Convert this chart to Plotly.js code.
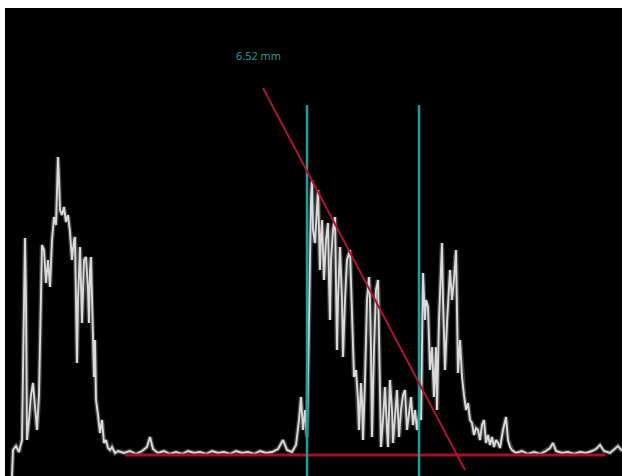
<!DOCTYPE html>
<html>
<head>
<meta charset="utf-8">
<script src="https://cdn.plot.ly/plotly-3.0.1.min.js"></script>
<style>html,body{margin:0;padding:0;background:#fff;}#chart{width:622px;height:476px;}</style>
</head>
<body>
<div id="chart"></div>
<script>
// Signal profile: sample position and screen depth (pixels from top); amplitude = 476 - depth
const signalX = [12,13,16,19,22,24,25,26,27,29,31,33,35,37,39,41,42,44,46,48,50,52,54,56,57,58,59,60,62,64,66,68,70,72,74,75,76,77,78,80,82,84,86,88,89,90,91,92,94,95,96,98,100,102,104,106,108,110,112,115,118,124,130,136,142,147,150,153,158,164,170,176,182,188,194,200,206,212,218,224,230,236,242,248,254,260,266,272,278,283,287,292,296,299,301,303,305,307,309,311,312,313,315,317,318,319,320,321,322,323,324,326,328,329,330,331,333,335,336,337,338,340,342,343,345,347,350,352,354,356,358,359,361,362,363,365,367,369,370,371,372,374,376,378,379,381,383,385,387,388,390,392,393,395,397,399,401,403,405,407,409,411,413,415,417,419,421,423,425,426,428,430,432,434,436,437,439,441,442,443,445,447,449,450,452,454,456,457,458,460,462,464,466,468,470,472,474,476,478,480,482,484,486,488,490,492,494,496,498,500,503,506,508,510,512,516,522,528,534,540,546,550,553,556,562,568,574,580,586,592,596,600,604,610,614,618,622];
const signalDepth = [476,450,446,452,440,300,238,300,440,420,395,383,410,430,395,300,245,250,283,260,287,240,217,225,180,157,180,210,215,207,222,215,232,260,240,237,300,363,300,247,323,260,257,290,323,270,257,310,377,340,400,415,433,420,443,440,448,450,447,453,451,453,451,454,451,447,437,449,453,451,454,452,454,451,453,452,454,451,453,452,454,451,453,452,454,451,453,452,449,440,450,452,445,420,397,430,410,437,300,200,180,230,243,200,190,230,270,235,220,250,280,240,223,280,320,260,230,217,280,350,300,247,300,357,300,260,250,320,377,370,400,430,383,400,440,380,300,277,300,350,437,350,290,280,350,447,420,387,430,447,380,410,443,420,390,437,410,395,390,430,410,397,425,410,430,415,420,273,320,300,307,370,347,397,347,410,320,260,243,300,370,323,290,270,300,280,250,300,373,340,377,395,410,403,420,423,435,428,430,440,425,420,443,435,445,437,447,440,443,448,430,417,440,447,450,453,451,454,452,454,451,448,443,451,453,452,454,452,453,451,449,445,451,453,449,446,451];
const signalAmp = signalDepth.map(d => 476 - d);

// Measurement overlay
const cursorX = [307, 419];
const cursorAmp = [0, 371];
const slopeX = [263, 465];
const slopeAmp = [388, 6];
const baseX = [125, 605];
const baseAmp = [21, 21];
const measureLabel = "6.52 mm";
const labelPos = [258, 421];

const traces = [
  {x: signalX, y: signalAmp, mode: 'lines', line: {color: 'rgba(255,255,255,0.25)', width: 4.5}, hoverinfo: 'skip'},
  {x: signalX, y: signalAmp, mode: 'lines', line: {color: '#dadada', width: 1.9}},
  {x: baseX, y: baseAmp, mode: 'lines', line: {color: '#a3102a', width: 3}},
  {x: [cursorX[0], cursorX[0]], y: cursorAmp, mode: 'lines', line: {color: '#1c9f98', width: 2.5}},
  {x: [cursorX[1], cursorX[1]], y: cursorAmp, mode: 'lines', line: {color: '#1c9f98', width: 2.5}},
  {x: slopeX, y: slopeAmp, mode: 'lines', line: {color: '#b0122c', width: 2}}
];

const layout = {
  width: 622, height: 476,
  margin: {l: 5, r: 0, t: 8, b: 0, pad: 0},
  paper_bgcolor: '#ffffff',
  plot_bgcolor: '#000000',
  showlegend: false,
  xaxis: {range: [5, 622], showgrid: false, zeroline: false, showticklabels: false, ticks: '', showline: false, fixedrange: true},
  yaxis: {range: [0, 468], showgrid: false, zeroline: false, showticklabels: false, ticks: '', showline: false, fixedrange: true},
  annotations: [{x: labelPos[0], y: labelPos[1], xref: 'x', yref: 'y', text: measureLabel, showarrow: false,
    font: {family: 'Open Sans, sans-serif', size: 11, color: '#1fa89f'}}]
};

Plotly.newPlot('chart', traces, layout, {staticPlot: true, displayModeBar: false});
</script>
</body>
</html>
